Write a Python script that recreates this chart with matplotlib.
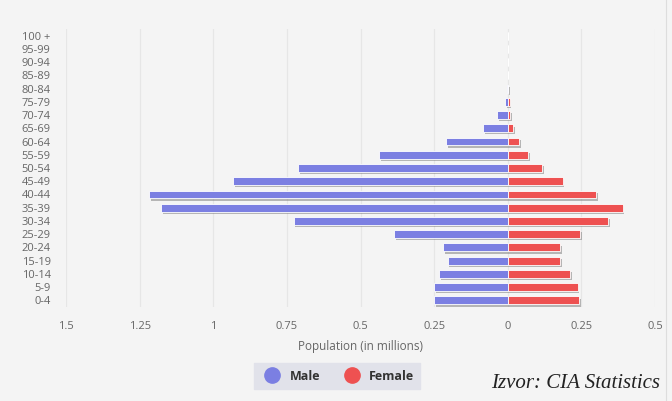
import matplotlib.pyplot as plt
import matplotlib.patheffects as pe
from matplotlib.lines import Line2D

# age groups, bottom to top
age_groups = ["0-4", "5-9", "10-14", "15-19", "20-24", "25-29", "30-34",
              "35-39", "40-44", "45-49", "50-54", "55-59", "60-64", "65-69",
              "70-74", "75-79", "80-84", "85-89", "90-94", "95-99", "100 +"]
# population in millions
male = [0.249, 0.249, 0.233, 0.204, 0.219, 0.385, 0.727, 1.177, 1.217, 0.933,
        0.713, 0.437, 0.21, 0.085, 0.035, 0.01, 0.003, 0, 0, 0, 0]
female = [0.241, 0.237, 0.212, 0.179, 0.179, 0.245, 0.342, 0.39, 0.30, 0.186,
          0.116, 0.068, 0.038, 0.019, 0.009, 0.006, 0.002, 0, 0, 0, 0]
xticks = [-1.5, -1.25, -1, -0.75, -0.5, -0.25, 0, 0.25, 0.5]
xtick_labels = ["1.5", "1.25", "1", "0.75", "0.5", "0.25", "0", "0.25", "0.5"]

MALE_COLOR = "#7b7fe2"
FEMALE_COLOR = "#ee5151"
BG = "#f4f4f4"
TEXT = "#666666"

plt.rcParams["font.family"] = ["Open Sans", "DejaVu Sans"]

fig = plt.figure(figsize=(6.72, 4.01), dpi=100, facecolor=BG)
ax = fig.add_axes([66 / 672, 1 - 307 / 401, 589 / 672, 278 / 401])
ax.set_facecolor(BG)

shadow = [pe.SimplePatchShadow(offset=(1.3, -1.6), shadow_rgbFace="#777777", alpha=0.5),
          pe.Normal()]
ypos = list(range(len(age_groups)))
ax.barh(ypos, [-m for m in male], height=0.6, color=MALE_COLOR,
        edgecolor="white", linewidth=0.6, path_effects=shadow, zorder=3)
ax.barh(ypos, female, height=0.6, color=FEMALE_COLOR,
        edgecolor="white", linewidth=0.6, path_effects=shadow, zorder=3)

ax.set_xlim(-1.5, 0.5)
ax.set_ylim(-0.5, len(age_groups) - 0.5)
ax.set_xticks(xticks)
ax.set_xticklabels(xtick_labels)
ax.set_yticks(ypos)
ax.set_yticklabels(age_groups)
ax.tick_params(axis="both", length=0, colors=TEXT, labelsize=8)
ax.tick_params(axis="y", pad=11)
ax.tick_params(axis="x", pad=10)
ax.grid(axis="x", color="#e6e6e6", linewidth=0.9, zorder=0)
for s in ax.spines.values():
    s.set_visible(False)
ax.axvline(-1.5, color="#d8d8d8", linewidth=1.2, zorder=1)

ax.set_xlabel("Population (in millions)", color=TEXT, fontsize=8.5, labelpad=6)

handles = [Line2D([], [], marker="o", linestyle="", markersize=11, color=MALE_COLOR),
           Line2D([], [], marker="o", linestyle="", markersize=11, color=FEMALE_COLOR)]
leg = fig.legend(handles, ["Male", "Female"], loc="center",
                 bbox_to_anchor=(337 / 672, 1 - 376 / 401), ncol=2, frameon=True,
                 fancybox=False, facecolor="#e1e2ea", edgecolor="#e1e2ea",
                 handletextpad=0.4, columnspacing=1.5, borderpad=0.5,
                 prop={"weight": "bold", "size": 9})
leg.get_frame().set_alpha(1)
for t in leg.get_texts():
    t.set_color("#333333")

fig.text(660 / 672, 1 - 383 / 401, "Izvor: CIA Statistics", ha="right", va="center",
         fontsize=15, style="italic", family="Liberation Serif", color="#222222")

fig.add_artist(Line2D([666 / 672, 666 / 672], [0, 1], color="#dddddd", linewidth=0.8))

fig.savefig("out.png", dpi=100, facecolor=BG)
